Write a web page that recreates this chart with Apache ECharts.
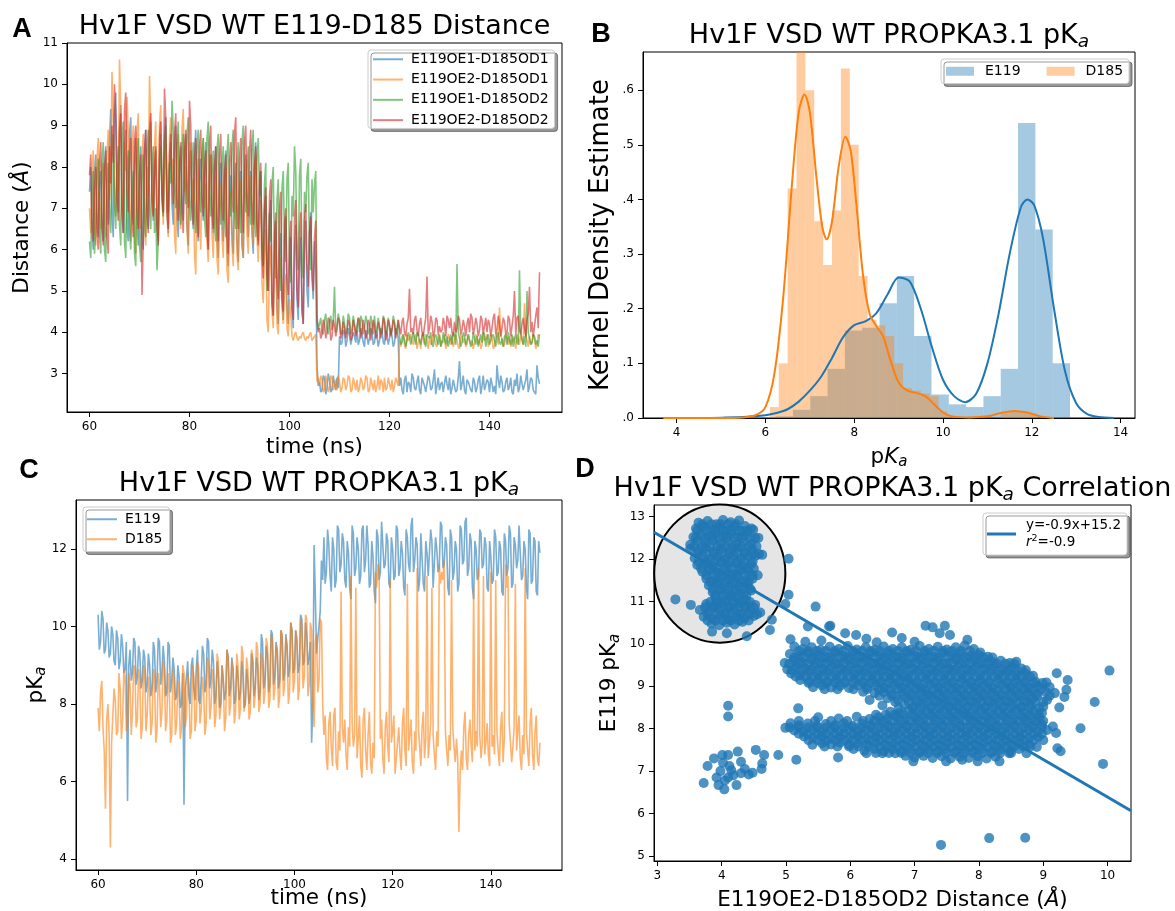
<!DOCTYPE html>
<html>
<head>
<meta charset="utf-8">
<script src="https://cdn.jsdelivr.net/npm/echarts@6/dist/echarts.min.js"></script>
<style>
  html, body { margin: 0; padding: 0; background: #fff; }
  #chart { width: 1175px; height: 911px; }
</style>
</head>
<body>
<div id="chart"></div>
<script>
// Traces are stored as two interleaved sample sets: frames at 60, 60.5, 61 ... 150 ns
// and frames at 60.25, 60.75 ... 149.75 ns.
const timeStart = 60;
const timeStep = 0.25;

// ---------- Panel A: E119-D185 carboxylate oxygen distances (Å) ----------
const distOE1OD1 = [
  7.4,6.5,7.9,6.9,7.6,6.6, 8.0,7.1,8.6,6.8,9.2,7.4, 8.9,7.0,8.3,6.5,8.8,7.2, 8.1,6.7,7.9,6.4,8.4,7.0,
  8.6,7.3,7.8,6.6,8.2,7.5, 8.7,6.9,8.0,7.1,8.5,6.8, 7.9,7.2,8.3,6.6,7.8,7.0, 8.4,6.8,7.6,7.3,8.1,6.5,
  7.7,6.9,8.0,6.3,7.5,6.8, 7.9,6.0,7.2,6.4,7.6,6.2, 7.4,6.1,7.8,6.9,7.3,6.4, 8.0,6.7,7.5,6.1,6.9,5.5,
  6.8,4.8,6.2,4.6,5.9,4.9, 6.3,4.6,5.6,4.5,6.0,4.8, 5.7,4.6,6.1,5.0,6.4,5.3, 6.2,3.2,
  2.8,2.6,2.9,2.65,2.85,2.6,2.75,2.9,
  3.9,3.75,4.0,3.8,3.95,3.7,3.9,4.05,3.8,3.95,3.65,3.9,3.85,4.0,3.75,3.9,3.8,4.05,3.7,3.95,3.85,3.9,3.75,4.0,
  2.7,2.6,2.85,2.55,2.75,3.0,2.65,2.8,2.6,2.9, 2.7,2.55,2.85,2.65,3.1,2.7,2.6,2.8,2.55,2.75,
  2.9,2.65,2.7,2.6,3.3,2.75,2.6,2.85,2.7,2.55, 2.8,2.65,2.95,2.7,2.6,2.85,2.55,2.75,2.7,3.2,
  2.65,2.8,2.6,2.9,2.7,2.55,2.85,3.0,2.65,2.75, 2.6,3.1,2.7,2.85,2.6,3.2,2.75
];
const distOE1OD1Mid = [
  8.0,6.0,8.3,6.3,7.9,6.2, 8.5,6.6,9.4,6.3,9.8,6.9, 9.5,6.4,8.9,6.2,9.2,6.6, 8.7,6.1,8.5,6.0,8.9,6.5,
  9.1,6.7,8.4,6.2,8.8,6.9, 9.2,6.4,8.6,6.6,9.0,6.3, 8.5,6.7,8.8,6.1,8.4,6.5, 8.9,6.2,8.2,6.7,8.6,6.0,
  8.3,6.4,8.5,5.8,8.1,6.2, 8.4,5.6,7.8,5.9,8.1,5.7, 7.9,5.8,8.3,6.3,7.9,5.9, 8.6,6.2,7.9,5.6,7.3,5.0,
  7.2,4.4,6.7,4.2,6.4,4.3, 6.8,4.2,6.3,4.1,6.6,4.3, 6.3,4.2,6.7,4.6,6.9,4.8, 5.5,
  2.7, 2.55,2.95,2.5,3.0,2.55,2.95,2.6, 2.65,
  3.7,4.05,3.65,4.1,3.7,4.0,3.75,3.7,4.1,3.75,4.05,3.7,4.1,3.7,4.05,3.65,4.1,3.75,4.05,3.7,4.1,3.65,4.1,
  3.85,
  2.9,2.5,2.95,2.8,2.55,2.9,2.6,2.95,2.5,2.8, 2.55,2.95,2.6,2.85,2.5,2.9,2.75,2.55,2.95,2.6,
  2.5,2.85,2.55,2.9,2.6,2.95,2.5,2.8,2.6,2.9, 2.55,2.85,2.5,2.95,2.6,2.8,2.9,2.55,2.5,2.85,
  2.95,2.55,2.8,2.6,2.9,2.5,2.7,2.55,2.95,2.6, 2.85,2.55,2.9,2.6,2.5,2.9
];
const distOE2OD1 = [
  7.0,7.8,6.6,8.2,7.1,7.6, 6.8,8.3,7.2,10.3,7.5,8.1, 10.6,7.3,8.6,9.7,6.9,8.4, 6.3,8.8,7.1,8.2,6.6,8.0,
  10.2,7.4,8.5,6.8,9.0,7.2, 8.1,6.9,8.7,7.6,6.4,8.3, 7.0,8.9,7.4,6.5,8.0,7.1, 5.9,7.7,6.6,8.2,7.0,6.2,
  7.8,6.4,7.3,5.8,7.0,6.3, 7.6,5.5,6.9,6.1,7.4,5.9, 7.1,6.2,7.7,6.4,7.2,6.6, 7.9,6.3,6.8,5.2,6.0,4.3,
  5.6,4.5,5.9,4.2,5.3,4.6, 5.0,4.1,4.8,3.9,3.95,3.85, 3.9,3.95,3.85,3.9,3.95,3.8, 3.9,2.8,
  2.7,2.85,2.6,2.8,2.65,2.9,2.7,2.6, 2.8,2.65,2.85,2.7,2.9,2.6,2.75,2.85,
  2.65,2.8,2.7,2.9,2.6,2.75,2.85,2.7, 2.6,2.8,2.9,2.65,2.75,2.85,2.7,2.8,
  3.8,3.9,3.7,3.95,3.85,3.75,3.9,3.6,3.85,3.95, 3.7,3.8,3.9,3.75,3.85,3.65,3.9,3.8,3.95,3.7,
  3.85,3.9,3.75,3.8,3.6,3.9,3.85,3.7,3.95,3.8, 3.75,3.9,3.85,3.7,3.8,3.95,3.75,3.85,3.65,3.9,
  4.6,3.8,3.7,3.85,3.9,3.75,3.8,3.95,3.7,3.85, 4.7,3.8,3.9,3.75,3.85,3.7,3.9
];
const distOE2OD1Mid = [
  6.4,8.4,6.1,8.7,6.5,8.1, 6.3,8.9,7.8,9.1,6.8,7.4, 9.4,6.7,7.9,8.8,6.2,9.0, 5.9,9.3,6.5,8.8,6.1,7.3,
  9.0,6.8,9.1,6.3,9.5,6.6, 8.6,6.3,9.2,8.2,5.9,8.8, 6.5,9.4,8.0,5.9,8.6,7.7, 5.4,8.2,6.0,8.7,7.6,5.7,
  8.3,5.8,7.8,5.4,7.6,5.8, 8.0,5.2,7.4,5.6,7.9,5.5, 7.7,5.8,8.2,5.9,7.8,6.1, 8.3,5.7,7.2,4.7,6.5,4.0,
  6.1,4.1,6.3,3.95,5.8,4.2, 5.4,3.9,4.4,3.8,4.0,3.8, 3.85,4.0,3.8,3.85,4.0,3.85, 3.95,
  2.9,
  2.95,2.55,2.95,2.55,2.95,2.6,2.85,2.95, 2.55,2.9,2.6,2.95,2.55,2.9,2.6,2.55,
  2.9,2.6,2.95,2.55,2.9,2.6,2.55,2.95, 2.85,2.55,2.6,2.9,2.6,2.55,2.9,
  2.7,
  3.65,3.95,3.6,3.8,3.95,3.7,3.95,3.75,3.6,3.85, 3.95,3.6,3.7,3.95,3.7,3.95,3.65,3.75,3.6,3.95,
  3.7,3.65,3.95,3.65,3.95,3.75,3.65,3.95,3.7,3.6, 3.95,3.7,3.6,3.95,3.85,3.65,3.95,3.6,3.95,3.7,
  3.95,3.65,3.95,3.7,3.65,3.9,3.6,3.85,3.95,3.7, 3.95,3.65,3.7,3.95,3.6,3.95
];
const distOE1OD2 = [
  6.2,7.3,5.9,7.8,6.4,8.1, 6.0,7.6,6.9,8.3,7.1,8.0, 6.6,8.7,6.2,7.9,6.5,7.4, 5.9,8.2,6.1,7.7,6.8,8.4,
  7.0,8.0,6.4,5.5,7.9,7.2, 8.6,7.4,8.1,9.6,7.5,8.6, 7.1,8.3,7.6,8.8,7.2,8.0, 6.9,8.5,7.4,8.2,6.8,8.7,
  7.3,7.9,6.7,8.4,7.1,8.0, 6.8,8.3,7.3,8.5,7.0,8.1, 6.9,8.6,7.4,8.0,7.1,8.5, 6.8,8.2,7.3,6.1,7.6,5.0,
  6.9,7.6,5.8,7.2,5.4,7.5, 6.2,7.7,5.6,7.3,8.5,6.0, 7.8,5.7,7.4,7.8,5.9,7.7, 7.6,4.4,
  4.2,4.0,4.3,4.1,4.25,4.05,5.1,4.15, 4.3,4.0,4.2,4.1,4.35,4.05,4.2,4.15,
  4.0,4.3,4.1,4.25,4.05,4.2,4.4,4.1, 4.15,4.0,4.3,4.1,4.2,4.05,4.25,4.1,
  3.9,3.75,3.95,3.8,3.9,3.7,3.85,4.0,3.8,3.9, 3.75,3.95,3.85,3.7,3.9,3.8,3.95,3.75,3.85,3.9,
  3.8,3.7,3.95,5.65,3.85,3.75,3.9,3.8,3.95,3.7, 3.85,3.9,3.8,3.75,3.95,3.85,3.7,3.9,3.8,3.95,
  3.75,3.85,3.9,3.7,3.8,3.95,3.85,3.75,5.5,3.8, 3.9,5.0,3.85,3.75,3.9,3.8,3.95
];
const distOE1OD2Mid = [
  5.8,7.9,6.5,8.2,5.9,8.6, 5.7,8.1,6.4,8.8,6.5,8.5, 6.1,9.1,5.8,8.4,6.0,7.9, 5.6,8.7,5.7,8.3,6.3,8.9,
  6.5,8.5,7.0,6.2,8.5,6.8, 9.0,6.9,7.6,8.9,7.0,9.1, 6.6,8.8,7.1,9.2,6.7,8.6, 6.4,8.9,6.9,8.7,6.3,9.1,
  6.8,8.4,6.2,8.8,6.6,8.5, 6.3,8.8,6.8,8.9,6.5,8.6, 6.4,9.0,6.9,8.5,6.6,8.9, 6.3,8.7,7.9,5.6,8.1,5.6,
  6.2,8.0,5.3,7.7,5.0,7.9, 5.7,8.1,5.2,6.8,7.9,5.5, 8.2,5.3,6.9,8.1,5.5,6.9, 7.9,
  4.05,
  4.35,3.95,4.45,3.95,4.4,4.3,4.0, 4.45,3.95,4.4,3.95,4.45,3.95,4.4,3.95,4.35,
  4.4,3.95,4.4,3.95,4.4,3.95,4.0,4.35, 3.95,4.4,3.95,4.35,3.95,4.4,3.95,
  4.3,
  3.7,3.95,3.65,4.0,3.7,4.0,3.7,3.95,3.7,4.0, 3.65,3.95,4.0,3.65,3.95,3.7,3.65,4.0,3.7,3.65,
  3.95,4.0,3.7,4.0,3.65,4.0,3.7,3.95,3.65,4.0, 3.7,3.65,3.95,4.0,3.65,3.95,3.7,3.95,3.65,4.0,
  3.7,3.65,3.95,4.0,3.7,3.65,3.95,3.7,4.0,3.7, 3.65,4.0,3.7,3.95,3.7,3.65
];
const distOE2OD2 = [
  7.8,6.7,7.5,6.4,8.1,6.6, 7.9,6.3,8.5,9.0,10.0,7.2, 8.8,6.9,9.4,7.5,8.2,6.8, 8.6,7.0,7.8,4.9,8.4,6.9,
  8.9,7.3,8.0,6.6,8.7,7.4, 9.9,7.0,8.3,7.6,8.8,7.2, 8.1,6.9,8.4,7.5,9.6,7.1, 8.2,6.8,8.5,7.3,7.9,6.5,
  8.6,7.0,8.0,6.7,8.3,7.2, 7.8,6.4,8.1,7.4,8.8,7.0, 8.2,6.9,8.6,7.3,8.4,7.1, 8.0,6.6,7.7,5.8,7.0,5.4,
  7.3,4.7,6.4,5.2,7.0,4.8, 6.6,5.3,6.2,4.6,6.8,5.0, 6.4,4.5,6.7,5.6,6.4,5.5, 6.3,4.3,
  4.1,3.95,4.2,4.0,4.3,3.9,4.15,4.05, 4.25,3.95,4.1,4.0,4.2,3.9,4.15,4.05,
  4.3,4.0,4.1,3.95,4.2,4.05,4.15,3.9, 4.1,4.0,4.25,3.95,4.15,4.05,4.2,4.0,
  4.1,4.25,4.0,4.2,5.05,4.1,4.3,4.05, 4.2,4.0,4.15,5.35,4.1,4.25,4.0,4.3,
  4.15,4.05,4.2,4.4,4.1,4.0,4.25,4.1, 4.3,4.05,4.15,4.2,4.0,4.35,4.1,4.2,
  4.05,4.3,4.15,4.0,4.2,4.1,4.45,4.05, 4.2,4.1,4.25,4.0,4.3,4.15,5.0,4.35,
  4.05,4.2,4.1,4.3,5.1,4.25,4.15,4.6,5.45
];
const distOE2OD2Mid = [
  8.3,6.2,8.0,6.0,8.6,6.1, 8.4,5.9,7.6,8.1,9.2,6.7, 9.3,6.4,9.8,6.9,8.7,6.3, 9.0,6.5,8.3,6.2,8.9,6.4,
  9.3,6.8,8.5,6.1,9.1,6.9, 9.2,6.5,8.8,7.1,9.3,6.7, 8.6,6.4,8.9,7.0,9.0,6.6, 8.7,6.3,8.9,6.8,8.4,6.0,
  9.0,6.5,8.5,6.2,8.8,6.7, 8.3,5.9,8.6,6.9,9.2,6.5, 8.7,6.4,9.0,6.8,8.9,6.6, 8.5,6.1,8.1,5.3,7.5,5.0,
  7.7,4.4,6.9,4.8,7.4,4.5, 7.0,4.9,6.7,4.3,7.2,4.6, 6.9,4.2,7.1,5.1,6.8,5.0, 6.7,
  4.0,
  3.85,4.3,3.85,4.35,3.8,4.3,3.9,4.35, 3.85,4.25,3.85,4.3,3.8,4.3,3.9,4.35,
  3.85,4.3,3.85,4.3,3.8,4.3,3.85,4.25, 3.85,4.35,3.8,4.3,3.9,4.3,3.85,
  4.3,
  3.95,4.35,3.9,4.35,4.0,3.95,4.4,3.9, 4.35,3.9,4.35,3.95,4.4,3.9,4.35,3.95,
  4.0,4.35,3.9,4.3,4.35,3.9,4.0,4.4, 3.95,4.3,3.9,4.35,4.45,3.95,4.35,3.9,
  4.4,3.95,4.35,4.3,3.9,4.35,3.95,4.4, 3.9,4.35,3.95,4.4,3.9,4.4,3.95,4.4,
  3.95,4.35,3.9,4.45,4.0,3.9,4.4,4.1
];
const distanceNames = ['E119OE1-D185OD1', 'E119OE2-D185OD1', 'E119OE1-D185OD2', 'E119OE2-D185OD2'];

// ---------- Panel B: pKa histograms (density) and KDE curves ----------
const e119HistStart = 5.06;
const e119HistWidth = 0.39;
const e119HistHeights = [0.003, 0, 0, 0.003, 0.015, 0.04, 0.09, 0.16, 0.165, 0.21,
                         0.26, 0.15, 0.043, 0.025, 0.02, 0.04, 0.09, 0.54, 0.345, 0.10];
const d185HistStart = 6.1;
const d185HistWidth = 0.2;
const d185HistHeights = [0.02, 0.1, 0.42, 0.72, 0.6, 0.36, 0.28, 0.38, 0.64, 0.5,
                         0.26, 0.18, 0.17, 0.15, 0.1, 0.055, 0.05, 0.045, 0.04, 0.012,
                         0.004, 0, 0, 0, 0, 0, 0.008, 0.012, 0.012, 0.008];
const e119Kde = [[4.6,0],[5.5,0.002],[6.0,0.005],[6.25,0.009],[6.5,0.016],[6.75,0.03],[7.0,0.05],
  [7.25,0.075],[7.5,0.11],[7.75,0.148],[8.0,0.17],[8.25,0.177],[8.5,0.192],[8.75,0.226],[9.0,0.257],
  [9.25,0.25],[9.5,0.2],[9.75,0.13],[10.0,0.07],[10.25,0.04],[10.5,0.029],[10.75,0.045],[11.0,0.1],
  [11.25,0.19],[11.5,0.3],[11.75,0.385],[11.9,0.4],[12.05,0.39],[12.25,0.33],[12.5,0.2],[12.75,0.085],
  [13.0,0.027],[13.25,0.007],[13.5,0.002],[13.85,0]];
const d185Kde = [[3.7,0],[5.0,0],[5.5,0.001],[5.8,0.006],[6.0,0.02],[6.2,0.08],[6.4,0.22],[6.6,0.43],
  [6.75,0.56],[6.88,0.592],[7.0,0.56],[7.15,0.44],[7.28,0.35],[7.38,0.327],[7.5,0.36],[7.65,0.46],
  [7.8,0.515],[7.92,0.49],[8.05,0.39],[8.2,0.26],[8.35,0.19],[8.5,0.168],[8.65,0.15],[8.8,0.11],
  [9.0,0.065],[9.2,0.05],[9.4,0.046],[9.6,0.04],[9.8,0.025],[10.0,0.01],[10.2,0.003],[10.6,0.001],
  [11.0,0.003],[11.3,0.009],[11.6,0.013],[11.9,0.01],[12.2,0.003],[12.5,0]];

// ---------- Panel C: PROPKA pKa traces ----------
const pkaE119 = [
  10.3,9.6,10.2,9.4,9.9,9.3, 9.8,9.0,9.7,9.1,9.5,8.9, 5.5,9.4,8.8,9.6,8.7,9.3, 8.6,9.2,8.5,9.0,8.4,9.4,
  8.6,9.6,8.8,9.1,8.3,9.5, 8.6,8.9,8.2,8.7,8.0,5.4, 8.7,8.2,9.0,8.4,8.9,8.1, 8.6,9.3,8.5,9.6,8.7,9.1,
  8.2,8.8,8.0,8.6,8.3,9.2, 8.4,8.9,8.1,8.7,8.3,8.8, 8.0,8.6,8.2,9.1,8.4,9.0, 8.3,9.6,8.6,9.3,8.5,9.8,
  8.7,9.4,8.6,9.7,8.8,9.5, 8.9,9.9,8.9,9.6,9.0,10.2, 9.1,9.8,9.2,7.0,12.1,9.3, 10.0,11.7,
  12.3,11.4,12.1,10.9,12.0,11.2,12.5,11.6, 12.2,11.0,11.9,10.7,12.4,11.5,12.0,11.3,
  12.6,11.7,12.1,11.1,11.8,10.6,12.3,11.4, 12.7,11.6,12.2,11.0,12.0,11.3,12.5,11.5,
  11.9,10.8,12.3,11.4,12.8,11.7,12.1,11.2, 12.4,10.9,11.9,11.3,12.2,11.0,12.0,11.5,
  12.6,11.6,12.1,10.8,12.3,11.4,12.0,11.1, 12.5,11.7,12.8,11.5,12.2,10.7,12.0,11.3,
  12.4,11.6,12.1,10.9,11.8,11.2,12.3,11.4, 12.0,10.8,12.2,11.5,12.4,11.1,12.1,11.7,
  12.6,11.3,12.0,10.7,12.4,11.2,12.2,10.8, 11.9
];
const pkaE119Mid = [
  9.4,10.4,9.3,10.1,9.2,10.0, 9.1,9.9,8.9,9.8,8.8,9.6, 9.0,8.6,9.7,8.5,9.5,8.4, 9.4,8.3,9.3,8.2,9.6,8.3,
  9.7,8.5,9.5,8.2,9.6,8.3, 9.2,8.1,9.0,7.9,8.8,8.4, 9.1,8.0,9.2,8.1,9.4,8.0, 9.5,8.3,9.7,8.4,9.4,8.0,
  9.1,7.9,9.0,8.1,9.4,8.2, 9.2,8.0,9.0,8.1,9.1,7.9, 8.9,8.0,9.3,8.2,9.2,8.1, 9.8,8.4,9.5,8.3,9.9,8.5,
  9.6,8.4,9.9,8.6,9.8,8.7, 10.1,8.8,9.9,8.8,10.3,9.0, 10.1,9.0,9.6,8.0,10.8,9.7, 10.4,
  11.2,
  11.1,12.5,11.3,12.3,11.0,12.6,11.4,12.4, 11.2,12.2,11.0,12.6,11.3,12.3,11.1,12.5,
  11.4,12.6,11.0,12.2,10.9,12.5,11.2,12.7, 11.5,12.4,11.1,12.3,11.2,12.6,11.3,12.2,
  11.0,12.5,11.6,12.6,11.4,12.3,10.9,12.4, 11.1,12.2,11.3,12.5,11.0,12.3,11.4,12.7,
  11.5,12.3,11.0,12.5,11.2,12.2,10.9,12.6, 11.6,12.7,11.3,12.4,11.0,12.2,11.2,12.5,
  11.5,12.3,11.0,12.2,11.1,12.5,11.3,12.2, 10.9,12.4,11.3,12.6,11.0,12.3,11.5,12.6,
  11.2,12.2,11.0,12.5,11.1,12.3,10.9,12.2
];
const pkaD185 = [
  7.9,8.3,7.4,5.3,8.0,4.3, 7.7,8.1,7.3,8.4,7.6,8.7, 7.5,8.5,7.8,8.9,7.6,8.6, 7.4,8.8,7.7,8.3,7.5,8.7,
  7.3,8.5,7.8,8.9,7.6,8.4, 7.2,8.6,7.5,8.2,7.4,8.8, 7.7,8.5,7.3,8.7,7.6,8.9, 7.8,8.4,7.5,9.0,7.9,8.6,
  7.7,9.1,7.9,8.7,7.6,9.2, 8.0,8.8,7.8,9.0,7.9,9.3, 8.1,8.9,7.8,9.2,8.2,9.4, 8.0,9.1,8.3,9.5,8.1,9.6,
  8.4,9.3,8.2,9.8,8.5,9.5, 8.3,9.9,8.6,9.7,8.4,10.0, 8.7,10.2,8.5,9.9,7.4,9.8, 8.6,10.1,
  7.2,6.6,7.5,6.9,7.7,6.5,7.3,10.9, 7.0,6.7,7.4,11.3,6.9,11.0,7.1,6.4,
  7.6,6.8,7.2,6.5,7.0,11.4,11.6,7.1, 6.6,7.4,6.9,11.2,7.3,6.2,7.0,6.7,
  7.5,6.8,11.1,7.2,6.5,7.3,11.5,6.9, 7.4,6.6,11.3,7.0,11.0,6.7,7.3,11.6,
  11.4,11.7,6.8,7.2,11.2,6.9,7.1,4.7, 6.8,7.4,6.6,7.2,6.9,11.0,7.3,11.5,
  6.6,11.3,7.0,6.7,11.4,7.2,11.2,6.8, 7.4,6.5,11.6,11.3,7.0,6.9,11.1,7.3,
  6.6,7.2,11.5,6.8,7.5,6.7,7.3,6.6, 7.0
];
const pkaD185Mid = [
  7.3,8.6,6.8,7.6,7.2,7.0, 8.4,7.2,8.8,7.1,8.9,7.3, 8.8,7.2,9.0,7.4,8.9,7.1, 9.0,7.3,8.7,7.2,8.9,7.0,
  8.8,7.4,9.1,7.3,8.8,7.0, 8.9,7.2,8.6,7.1,9.0,7.4, 8.8,7.1,9.0,7.3,9.1,7.5, 8.7,7.2,9.2,7.6,8.9,7.4,
  9.3,7.6,9.0,7.3,9.4,7.7, 9.1,7.5,9.3,7.6,9.5,7.8, 9.2,7.6,9.4,7.9,9.6,7.8, 9.3,8.0,9.7,7.9,9.8,8.1,
  9.5,7.9,9.9,8.2,9.7,8.0, 10.1,8.3,9.9,8.1,10.2,8.4, 10.3,8.2,10.1,8.0,9.6,8.3, 10.2,
  8.0,
  7.7,6.3,7.8,6.4,7.9,6.3,6.8,7.4, 7.6,6.3,6.9,7.5,7.2,6.6,7.7,6.1,
  7.9,6.3,7.8,6.2,6.6,11.0,11.3,7.6, 6.2,7.8,6.5,7.0,7.7,6.6,7.4,6.3,
  7.9,6.4,6.8,7.6,6.2,6.8,7.4,6.4, 7.8,7.1,6.6,7.5,7.2,6.3,6.9,11.1,
  11.2,7.3,6.4,6.8,7.4,6.5,6.6,6.2, 6.3,7.8,6.3,7.6,6.5,6.8,6.9,7.2,
  7.0,6.7,7.5,6.4,6.9,6.7,7.3,6.4, 7.8,7.1,11.0,7.5,6.5,7.4,6.8,7.7,
  6.3,6.7,7.3,6.4,7.9,6.3,7.7,6.4
];

// ---------- Panel D: E119 pKa against E119OE2-D185OD2 distance ----------
const corrHighState = [
  [3.64,12.86],[3.78,12.9],[3.92,12.82],[4.02,12.92],[4.14,12.87],[4.27,12.91],[4.36,12.78],
  [3.6,12.72],[3.72,12.76],[3.85,12.7],[3.97,12.74],[4.08,12.68],[4.2,12.76],[4.32,12.66],[4.46,12.72],[4.49,12.69],
  [3.56,12.52],[3.68,12.58],[3.8,12.55],[3.9,12.6],[4.02,12.54],[4.14,12.6],[4.25,12.52],[4.38,12.58],[4.57,12.5],
  [3.51,12.34],[3.62,12.42],[3.74,12.38],[3.86,12.44],[3.98,12.36],[4.1,12.42],[4.22,12.34],[4.34,12.4],[4.46,12.36],
  [3.51,12.24],[3.64,12.2],[3.76,12.26],[3.88,12.18],[4.0,12.24],[4.12,12.2],[4.24,12.26],[4.36,12.18],[4.48,12.22],[4.63,12.1],
  [3.58,12.02],[3.7,12.08],[3.82,12.0],[3.94,12.06],[4.06,12.0],[4.18,12.08],[4.3,12.02],[4.42,12.06],[4.53,12.08],
  [3.62,11.86],[3.74,11.9],[3.86,11.84],[3.98,11.92],[4.1,11.86],[4.22,11.9],[4.34,11.84],[4.46,11.88],
  [3.7,11.7],[3.82,11.74],[3.94,11.68],[4.06,11.72],[4.18,11.66],[4.3,11.74],[4.42,11.7],[4.56,11.62],
  [3.76,11.54],[3.88,11.5],[4.0,11.56],[4.12,11.52],[4.24,11.58],[4.36,11.5],[4.48,11.54],
  [3.8,11.38],[3.92,11.42],[4.04,11.36],[4.16,11.4],[4.28,11.34],[4.4,11.4],
  [3.86,11.22],[3.98,11.26],[4.1,11.2],[4.22,11.24],[4.34,11.18],[4.46,11.26],
  [3.9,11.08],[4.02,11.04],[4.14,11.1],[4.26,11.06],[4.38,11.02],
  [3.76,10.94],[3.88,10.9],[4.0,10.96],[4.12,10.88],[4.24,10.94],[4.36,10.9],[4.52,10.92],
  [3.66,10.8],[3.8,10.76],[3.94,10.82],[4.06,10.74],[4.18,10.8],[4.3,10.72],[4.44,10.78],[4.6,10.74],
  [3.72,10.64],[3.86,10.6],[3.98,10.66],[4.1,10.58],[4.22,10.64],[4.36,10.6],[4.5,10.66],
  [3.84,10.48],[3.96,10.44],[4.08,10.5],[4.2,10.46],[4.32,10.52],
  [3.28,11.05],[3.52,10.92],[3.85,10.29],[4.08,10.25],[4.39,10.18],
  [5.04,12.01],[5.04,11.16],[4.99,10.94],[5.46,10.88],[4.78,10.57],[4.75,10.33],[5.34,10.41],[5.67,10.41]
];
// interior rows of the high-pKa population: [pKa, [distances]]
const corrHighStateRows = [
  [12.82, [3.7,3.84,3.98,4.1,4.22]],
  [12.67, [3.62,3.76,3.9,4.03,4.15,4.27,4.4]],
  [12.5,  [3.6,3.74,3.86,3.97,4.08,4.2,4.31,4.44,4.52]],
  [12.3,  [3.57,3.7,3.82,3.94,4.06,4.18,4.3,4.42,4.54]],
  [12.12, [3.63,3.76,3.88,4.0,4.12,4.24,4.36,4.48,4.58]],
  [11.94, [3.64,3.76,3.88,4.0,4.12,4.24,4.36,4.48]],
  [11.78, [3.68,3.8,3.92,4.04,4.16,4.28,4.4,4.5]],
  [11.62, [3.76,3.88,4.0,4.12,4.24,4.36,4.48]],
  [11.46, [3.82,3.94,4.06,4.18,4.3,4.42]],
  [11.3,  [3.86,3.98,4.1,4.22,4.34,4.44]],
  [11.14, [3.9,4.02,4.14,4.26,4.38]],
  [10.99, [3.82,3.94,4.06,4.18,4.3,4.44]],
  [10.86, [3.74,3.87,4.0,4.12,4.25,4.38,4.5]],
  [10.7,  [3.78,3.92,4.04,4.16,4.28,4.42,4.55]],
  [10.55, [3.78,3.9,4.02,4.14,4.27,4.42]]
];
const corrLowState = [
  [3.72,6.72],[3.78,7.12],[3.95,6.67],[4.04,6.57],[3.98,7.0],[4.01,7.38],[4.1,7.38],[4.23,6.67],
  [4.1,6.85],[4.15,7.02],[4.25,7.46],[4.3,7.22],[4.3,6.95],[4.36,7.05],[3.92,6.85],[4.05,6.78],
  [4.18,6.9],[4.02,7.2],[3.88,7.3],[4.12,7.12],[4.48,6.96],[4.42,6.92],[4.53,7.5],[4.66,7.38],
  [4.63,7.18],[4.62,7.05],[4.1,8.54],[4.1,8.29],[4.88,7.38],[5.16,7.27],[5.81,7.32]
];
const corrOpenState = [
  [5.07,10.11],[5.3,10.05],[5.69,10.43],[5.92,10.25],[6.09,10.21],[6.41,10.04],[6.65,10.27],[6.8,10.14],
  [7.17,10.43],[7.28,10.39],[7.47,10.43],[7.39,10.25],[7.55,10.21],[7.0,10.05],[6.25,10.12],[5.55,10.08],[7.82,10.1],
  [5.13,9.94],[5.26,9.88],[5.4,9.92],[5.54,9.86],[5.68,9.93],[5.82,9.88],[5.96,9.95],[6.1,9.87],[6.24,9.92],
  [6.38,9.86],[6.52,9.94],[6.66,9.88],[6.8,9.92],[6.94,9.86],[7.08,9.95],[7.22,9.88],[7.36,9.93],[7.5,9.87],
  [7.64,9.92],[7.78,9.96],[7.92,9.88],[8.02,9.8],
  [5.06,9.76],[5.2,9.72],[5.34,9.78],[5.48,9.74],[5.62,9.7],[5.76,9.77],[5.9,9.72],[6.04,9.76],[6.18,9.7],
  [6.32,9.78],[6.46,9.73],[6.6,9.76],[6.74,9.7],[6.88,9.77],[7.02,9.72],[7.16,9.76],[7.3,9.7],[7.44,9.78],
  [7.58,9.73],[7.72,9.77],[7.86,9.71],[8.0,9.74],[8.14,9.7],
  [4.98,9.55],[5.12,9.6],[5.26,9.57],[5.4,9.62],[5.54,9.56],[5.68,9.6],[5.82,9.55],[5.96,9.62],[6.1,9.57],
  [6.24,9.6],[6.38,9.55],[6.52,9.62],[6.66,9.58],[6.8,9.6],[6.94,9.55],[7.08,9.62],[7.22,9.57],[7.36,9.6],
  [7.5,9.55],[7.64,9.62],[7.78,9.58],[7.92,9.6],[8.06,9.55],[8.2,9.58],[8.34,9.6],[8.48,9.55],[8.58,9.58],
  [5.02,9.4],[5.16,9.45],[5.3,9.42],[5.44,9.47],[5.58,9.41],[5.72,9.46],[5.86,9.42],[6.0,9.47],[6.14,9.4],
  [6.28,9.45],[6.42,9.42],[6.56,9.47],[6.7,9.41],[6.84,9.46],[6.98,9.42],[7.12,9.47],[7.26,9.4],[7.4,9.45],
  [7.54,9.42],[7.68,9.47],[7.82,9.41],[7.96,9.46],[8.1,9.42],[8.24,9.47],[8.38,9.4],[8.52,9.45],[8.66,9.42],
  [5.08,9.3],[5.22,9.26],[5.36,9.32],[5.5,9.27],[5.64,9.31],[5.78,9.26],[5.92,9.32],[6.06,9.28],[6.2,9.31],
  [6.34,9.26],[6.48,9.32],[6.62,9.27],[6.76,9.31],[6.9,9.26],[7.04,9.32],[7.18,9.28],[7.32,9.31],[7.46,9.26],
  [7.6,9.32],[7.74,9.27],[7.88,9.31],[8.02,9.26],[8.16,9.32],[8.3,9.28],[8.44,9.31],[8.58,9.26],[8.72,9.3],[8.84,9.25],
  [5.22,9.15],[5.36,9.12],[5.5,9.17],[5.64,9.11],[5.78,9.16],[5.92,9.12],[6.06,9.17],[6.2,9.11],[6.34,9.16],
  [6.48,9.12],[6.62,9.17],[6.76,9.11],[6.9,9.16],[7.04,9.12],[7.18,9.17],[7.32,9.11],[7.46,9.16],[7.6,9.12],
  [7.74,9.17],[7.88,9.11],[8.02,9.16],[8.16,9.12],[8.3,9.17],[8.44,9.11],[8.58,9.16],[8.72,9.12],[8.88,9.11],[9.05,9.09],
  [5.42,8.98],[5.56,9.02],[5.7,8.97],[5.84,9.01],[5.98,8.96],[6.12,9.02],[6.26,8.97],[6.4,9.01],[6.54,8.96],
  [6.68,9.02],[6.82,8.97],[6.96,9.01],[7.1,8.96],[7.24,9.02],[7.38,8.97],[7.52,9.01],[7.66,8.96],[7.8,9.02],
  [7.94,8.97],[8.08,9.01],[8.22,8.96],[8.36,9.02],[8.5,8.97],[8.64,9.01],[8.78,8.96],[8.92,9.0],[9.1,8.98],
  [6.2,8.87],[6.38,8.84],[6.52,8.86],[6.66,8.82],[6.8,8.87],[6.94,8.83],[7.08,8.86],[7.22,8.82],[7.36,8.87],
  [7.5,8.83],[7.64,8.86],[7.78,8.82],[7.92,8.87],[8.06,8.83],[8.2,8.86],[8.34,8.82],[8.48,8.87],[8.62,8.83],
  [8.76,8.86],[8.9,8.82],[9.04,8.87],[9.18,8.84],[9.36,8.92],[9.38,9.15],[9.21,9.31],
  [6.3,8.68],[6.58,8.72],[6.74,8.68],[6.88,8.72],[7.02,8.67],[7.16,8.71],[7.3,8.68],[7.44,8.72],[7.58,8.67],
  [7.72,8.71],[7.86,8.68],[8.0,8.72],[8.14,8.67],[8.28,8.71],[8.42,8.68],[8.56,8.72],[8.7,8.67],[8.84,8.71],
  [9.06,8.68],[9.33,8.75],
  [6.5,8.55],[6.84,8.56],[6.98,8.52],[7.12,8.57],[7.26,8.53],[7.4,8.56],[7.54,8.52],[7.68,8.57],[7.82,8.53],
  [7.96,8.56],[8.1,8.52],[8.24,8.57],[8.38,8.53],[8.52,8.56],[8.66,8.52],[8.8,8.57],[9.0,8.52],[9.25,8.5],
  [5.19,8.48],[6.62,8.4],[6.76,8.37],[6.9,8.42],[7.04,8.38],[7.18,8.41],[7.32,8.37],[7.46,8.42],[7.6,8.38],
  [7.74,8.41],[7.88,8.37],[8.02,8.42],[8.16,8.38],[8.3,8.41],[8.44,8.37],[8.58,8.42],[8.72,8.38],[8.86,8.41],[8.98,8.37],
  [5.5,8.27],[5.82,8.24],[6.1,8.28],[6.3,8.23],[6.44,8.27],[6.58,8.24],[6.72,8.28],[6.86,8.23],[7.0,8.27],
  [7.14,8.24],[7.28,8.28],[7.42,8.23],[7.56,8.27],[7.7,8.24],[7.84,8.28],[7.98,8.23],[8.12,8.27],[8.26,8.24],
  [8.4,8.28],[8.54,8.23],[8.68,8.27],[8.82,8.24],[8.94,8.25],
  [5.07,8.13],[5.2,8.08],[5.34,8.12],[5.48,8.07],[5.62,8.11],[5.76,8.08],[5.9,8.13],[6.04,8.07],[6.18,8.11],
  [6.32,8.08],[6.46,8.13],[6.6,8.07],[6.74,8.11],[6.88,8.08],[7.02,8.13],[7.16,8.07],[7.3,8.11],[7.44,8.08],
  [7.58,8.13],[7.72,8.07],[7.86,8.11],[8.0,8.08],[8.14,8.13],[8.28,8.07],[8.42,8.11],[8.56,8.08],[8.7,8.13],
  [8.84,8.07],[8.98,8.1],[9.15,8.05],
  [4.99,8.02],[5.13,7.96],[5.27,7.93],[5.41,7.97],[5.55,7.92],[5.69,7.96],[5.83,7.93],[5.97,7.97],[6.11,7.92],
  [6.25,7.96],[6.39,7.93],[6.53,7.97],[6.67,7.92],[6.81,7.96],[6.95,7.93],[7.09,7.97],[7.23,7.92],[7.37,7.96],
  [7.51,7.93],[7.65,7.97],[7.79,7.92],[7.93,7.96],[8.07,7.93],[8.21,7.97],[8.35,7.92],[8.49,7.96],[8.63,7.93],
  [8.77,7.97],[8.91,7.92],[9.06,7.97],[9.2,7.9],
  [5.28,7.82],[5.42,7.78],[5.56,7.82],[5.7,7.77],[5.84,7.81],[5.98,7.78],[6.12,7.83],[6.26,7.77],[6.4,7.81],
  [6.54,7.78],[6.68,7.83],[6.82,7.77],[6.96,7.81],[7.1,7.78],[7.24,7.83],[7.38,7.77],[7.52,7.81],[7.66,7.78],
  [7.8,7.83],[7.94,7.77],[8.08,7.81],[8.22,7.78],[8.36,7.83],[8.5,7.77],[8.64,7.81],[8.78,7.78],[8.92,7.8],[9.0,7.73],
  [5.41,7.62],[5.56,7.66],[5.7,7.63],[5.84,7.67],[5.98,7.62],[6.12,7.66],[6.26,7.63],[6.4,7.67],[6.54,7.62],
  [6.68,7.66],[6.82,7.63],[6.96,7.67],[7.1,7.62],[7.24,7.66],[7.38,7.63],[7.52,7.67],[7.66,7.62],[7.8,7.66],
  [7.94,7.63],[8.08,7.67],[8.22,7.62],[8.36,7.66],[8.5,7.63],[8.64,7.67],[8.78,7.62],[8.9,7.57],[9.22,7.54],
  [6.05,7.52],[6.22,7.48],[6.38,7.52],[6.52,7.47],[6.66,7.51],[6.8,7.48],[6.94,7.52],[7.08,7.47],[7.22,7.51],
  [7.36,7.48],[7.5,7.52],[7.64,7.47],[7.78,7.51],[7.92,7.48],[8.06,7.52],[8.2,7.47],[8.34,7.51],[8.48,7.48],
  [8.62,7.52],[8.74,7.42],[9.27,7.47],
  [6.25,7.42],[6.5,7.42],[6.7,7.42],[6.86,7.36],[7.0,7.32],[7.14,7.36],[7.28,7.31],[7.42,7.35],[7.56,7.3],
  [7.7,7.34],[7.84,7.31],[7.98,7.35],[8.12,7.3],[8.26,7.34],[8.47,7.42],
  [6.98,7.23],[7.49,7.23],[7.74,7.27],[7.98,7.23],[8.32,7.23]
];
// interior rows of the open-state population: [pKa, [distances]]
const corrOpenStateRows = [
  [9.83, [5.2,5.34,5.48,5.62,5.76,5.9,6.04,6.18,6.32,6.46,6.6,6.74,6.88,7.02,7.16,7.3,7.44,7.58,7.72,7.86]],
  [9.68, [5.13,5.27,5.41,5.55,5.69,5.83,5.97,6.11,6.25,6.39,6.53,6.67,6.81,6.95,7.09,7.23,7.37,7.51,7.65,7.79,7.93,8.07,8.21]],
  [9.53, [5.05,5.19,5.33,5.47,5.61,5.75,5.89,6.03,6.17,6.31,6.45,6.59,6.73,6.87,7.01,7.15,7.29,7.43,7.57,7.71,7.85,7.99,8.13,8.27,8.41,8.55]],
  [9.38, [5.09,5.23,5.37,5.51,5.65,5.79,5.93,6.07,6.21,6.35,6.49,6.63,6.77,6.91,7.05,7.19,7.33,7.47,7.61,7.75,7.89,8.03,8.17,8.31,8.45,8.59,8.73]],
  [9.23, [5.15,5.29,5.43,5.57,5.71,5.85,5.99,6.13,6.27,6.41,6.55,6.69,6.83,6.97,7.11,7.25,7.39,7.53,7.67,7.81,7.95,8.09,8.23,8.37,8.51,8.65,8.79]],
  [9.08, [5.35,5.49,5.63,5.77,5.91,6.05,6.19,6.33,6.47,6.61,6.75,6.89,7.03,7.17,7.31,7.45,7.59,7.73,7.87,8.01,8.15,8.29,8.43,8.57,8.71,8.85,8.99]],
  [8.93, [5.6,5.8,6.05,6.26,6.45,6.59,6.73,6.87,7.01,7.15,7.29,7.43,7.57,7.71,7.85,7.99,8.13,8.27,8.41,8.55,8.69,8.83,8.97]],
  [8.78, [6.45,6.65,6.81,6.95,7.09,7.23,7.37,7.51,7.65,7.79,7.93,8.07,8.21,8.35,8.49,8.63,8.77,8.91,9.1]],
  [8.63, [6.7,6.91,7.05,7.19,7.33,7.47,7.61,7.75,7.89,8.03,8.17,8.31,8.45,8.59,8.73,8.87,9.0]],
  [8.48, [6.75,6.97,7.11,7.25,7.39,7.53,7.67,7.81,7.95,8.09,8.23,8.37,8.51,8.65,8.79,8.93]],
  [8.33, [6.4,6.55,6.69,6.83,6.97,7.11,7.25,7.39,7.53,7.67,7.81,7.95,8.09,8.23,8.37,8.51,8.65,8.79,8.93]],
  [8.18, [5.2,5.45,5.7,5.95,6.2,6.37,6.51,6.65,6.79,6.93,7.07,7.21,7.35,7.49,7.63,7.77,7.91,8.05,8.19,8.33,8.47,8.61,8.75,8.89,9.0]],
  [8.03, [5.06,5.2,5.34,5.48,5.62,5.76,5.9,6.04,6.18,6.32,6.46,6.6,6.74,6.88,7.02,7.16,7.3,7.44,7.58,7.72,7.86,8.0,8.14,8.28,8.42,8.56,8.7,8.84,8.98]],
  [7.88, [5.2,5.34,5.48,5.62,5.76,5.9,6.04,6.18,6.32,6.46,6.6,6.74,6.88,7.02,7.16,7.3,7.44,7.58,7.72,7.86,8.0,8.14,8.28,8.42,8.56,8.7,8.84,8.98]],
  [7.73, [5.35,5.49,5.63,5.77,5.91,6.05,6.19,6.33,6.47,6.61,6.75,6.89,7.03,7.17,7.31,7.45,7.59,7.73,7.87,8.01,8.15,8.29,8.43,8.57,8.71,8.85]],
  [7.58, [5.6,5.8,5.98,6.13,6.29,6.45,6.59,6.73,6.87,7.01,7.15,7.29,7.43,7.57,7.71,7.85,7.99,8.13,8.27,8.41,8.55,8.69,8.8]],
  [7.43, [6.4,6.6,6.79,6.93,7.07,7.21,7.35,7.49,7.63,7.77,7.91,8.05,8.19,8.33,8.5]]
];
const corrOutliers = [[7.41,5.26],[8.16,5.42],[8.72,5.43],[9.93,7.17],[10.03,9.37],[9.8,8.63],[9.58,8.01]];

// linear fit printed in the legend
const fitSlope = -0.885;
const fitIntercept = 15.24;
const fitR2 = -0.9;
// circled high-pKa population (centre and radii in data units)
const highStateRing = { center: [3.97, 11.66], radii: [1.02, 1.63] };

// ---------- styling ----------
const FONT = 'DejaVu Sans';
const BLUE = '#1f77b4', ORANGE = '#ff7f0e', GREEN = '#2ca02c', RED = '#d62728';

const gridBoxes = [
  { left: 67,  top: 43,  width: 495, height: 369 },   // A
  { left: 643, top: 52,  width: 492, height: 366 },   // B
  { left: 76,  top: 500, width: 486, height: 370 },   // C
  { left: 654, top: 505, width: 477, height: 356 }    // D
];
const axisRanges = {
  A: { x: [55.5, 154.5], y: [2.07, 11.0] },
  B: { x: [3.243, 14.324], y: [0, 0.67] },
  C: { x: [55.5, 154.5], y: [3.72, 13.26] },
  D: { x: [2.947, 10.365], y: [4.88, 13.276] }
};
const tickValues = {
  A: { x: [60, 80, 100, 120, 140], y: [3, 4, 5, 6, 7, 8, 9, 10, 11] },
  B: { x: [4, 6, 8, 10, 12, 14], y: [0, 0.1, 0.2, 0.3, 0.4, 0.5, 0.6] },
  C: { x: [60, 80, 100, 120, 140], y: [4, 6, 8, 10, 12] },
  D: { x: [3, 4, 5, 6, 7, 8, 9, 10], y: [5, 6, 7, 8, 9, 10, 11, 12, 13] }
};

function makeAxis(gridIndex, range, ticks, formatter) {
  return {
    type: 'value', gridIndex, min: range[0], max: range[1], scale: true,
    splitLine: { show: false },
    axisLine: { show: true, onZero: false, lineStyle: { color: '#000', width: 1 } },
    axisTick: { show: true, length: 5, lineStyle: { color: '#000', width: 1 }, customValues: ticks },
    axisLabel: { show: true, color: '#000', fontFamily: FONT, fontSize: 12, margin: 9,
                 customValues: ticks, formatter: formatter || (v => String(v)) }
  };
}

const panels = ['A', 'B', 'C', 'D'];
const xAxes = panels.map((p, i) => makeAxis(i, axisRanges[p].x, tickValues[p].x));
const yAxes = panels.map((p, i) => makeAxis(i, axisRanges[p].y, tickValues[p].y,
  p === 'B' ? (v => '.' + Math.round(v * 10)) : null));

// merge the on-frame and mid-frame samples into one time-ordered trace
function timeSeries(onFrames, midFrames) {
  const out = [];
  onFrames.forEach((v, i) => {
    out.push([timeStart + 2 * i * timeStep, v]);
    if (i < midFrames.length) out.push([timeStart + (2 * i + 1) * timeStep, midFrames[i]]);
  });
  return out;
}
function rowsToPoints(rows) {
  const pts = [];
  rows.forEach(([y, xs]) => xs.forEach(x => pts.push([x, y])));
  return pts;
}

function traceSeries(name, color, onFrames, midFrames, panelIndex) {
  return {
    type: 'line', name, xAxisIndex: panelIndex, yAxisIndex: panelIndex,
    data: timeSeries(onFrames, midFrames), showSymbol: false, symbol: 'none', silent: true,
    color, lineStyle: { color, width: 1.6, opacity: 0.6 }, emphasis: { disabled: true },
    clip: true, sampling: null
  };
}

function histSeries(name, color, start, width, heights) {
  const bins = [];
  heights.forEach((h, i) => { if (h > 0) bins.push([start + i * width, start + (i + 1) * width, h]); });
  return {
    type: 'custom', name, xAxisIndex: 1, yAxisIndex: 1, silent: true, clip: true,
    color, itemStyle: { color }, encode: { x: [0, 1], y: 2 }, data: bins,
    renderItem(params, api) {
      const top = api.coord([api.value(0), api.value(2)]);
      const base = api.coord([api.value(1), 0]);
      return { type: 'rect', shape: { x: top[0], y: top[1], width: base[0] - top[0], height: base[1] - top[1] },
               style: { fill: color } };
    }
  };
}

function kdeSeries(name, color, data) {
  return {
    type: 'line', name, xAxisIndex: 1, yAxisIndex: 1, data, showSymbol: false, symbol: 'none',
    smooth: 0.3, silent: true, color, lineStyle: { color, width: 2 }, clip: true
  };
}

const fitX = axisRanges.D.x;
const fitLine = fitX.map(x => [x, fitSlope * x + fitIntercept]);

const legendBase = {
  selectedMode: false, orient: 'vertical', icon: 'rect',
  backgroundColor: '#fff', borderColor: '#cccccc', borderWidth: 1, borderRadius: 3,
  shadowColor: 'rgba(0,0,0,0.4)', shadowOffsetX: 3, shadowOffsetY: 3, shadowBlur: 0.01,
  textStyle: { fontFamily: FONT, fontSize: 14, color: '#000', lineHeight: 14.5 }
};

const titleRich = {
  n: { fontFamily: FONT, fontSize: 27, lineHeight: 32 },
  s: { fontFamily: FONT, fontSize: 18.5, fontStyle: 'italic', lineHeight: 15, verticalAlign: 'bottom' }
};
const labelRich = {
  n: { fontFamily: FONT, fontSize: 21.5, lineHeight: 26 },
  k: { fontFamily: FONT, fontSize: 21.5, fontStyle: 'italic', lineHeight: 26 },
  i: { fontFamily: FONT, fontSize: 21.5, fontStyle: 'italic', lineHeight: 26 },
  s: { fontFamily: FONT, fontSize: 15, fontStyle: 'italic', lineHeight: 12, verticalAlign: 'bottom' }
};

function textEl(text, x, y, rich, opts) {
  opts = opts || {};
  return {
    type: 'text', x, y, rotation: opts.rotation || 0, silent: true, z: 100,
    style: {
      text, fill: '#000', align: 'center', verticalAlign: 'middle',
      fontFamily: opts.fontFamily || FONT, fontSize: opts.fontSize || 21.5,
      fontWeight: opts.fontWeight || 'normal', rich: rich || undefined
    }
  };
}

const option = {
  animation: false,
  backgroundColor: '#fff',
  textStyle: { fontFamily: FONT },
  grid: gridBoxes.map(g => Object.assign({}, g, {
    show: true, borderColor: '#000', borderWidth: 1, backgroundColor: 'transparent',
    containLabel: false, outerBoundsMode: 'none'
  })),
  xAxis: xAxes,
  yAxis: yAxes,
  legend: [
    Object.assign({}, legendBase, {
      data: distanceNames, left: 368, top: 50, itemWidth: 30, itemHeight: 2, itemGap: 5.8,
      padding: [2, 6, 1, 5], itemStyle: { opacity: 0.6 },
      textStyle: Object.assign({}, legendBase.textStyle, { padding: [0, 0, 0, 3] })
    }),
    Object.assign({}, legendBase, {
      data: ['E119 density', 'D185 density'], orient: 'horizontal', left: 941, top: 59,
      itemWidth: 28, itemHeight: 9, itemGap: 26, padding: [5, 6, 5, 5],
      formatter: name => name.split(' ')[0],
      textStyle: Object.assign({}, legendBase.textStyle, { padding: [0, 0, 0, 6] })
    }),
    Object.assign({}, legendBase, {
      data: ['E119', 'D185'], left: 83, top: 507, itemWidth: 30, itemHeight: 2, itemGap: 5.5,
      padding: [5, 7, 5, 4], itemStyle: { opacity: 0.6 },
      textStyle: Object.assign({}, legendBase.textStyle, { padding: [0, 0, 0, 3] })
    }),
    Object.assign({}, legendBase, {
      data: ['fit'], left: 983, top: 513, itemWidth: 29, itemHeight: 3, padding: [4, 6, 4, 4],
      formatter: () => 'y=' + fitSlope.toFixed(1) + 'x+' + fitIntercept.toFixed(1) +
                       '\n{i|r}{sup|2}=' + fitR2.toFixed(1),
      textStyle: {
        fontFamily: FONT, fontSize: 13.5, color: '#000', lineHeight: 17, padding: [0, 0, 0, 5],
        rich: {
          i: { fontFamily: FONT, fontSize: 13.5, fontStyle: 'italic', lineHeight: 17 },
          sup: { fontFamily: FONT, fontSize: 9.5, lineHeight: 10, verticalAlign: 'top' }
        }
      }
    })
  ],
  series: [
    // A
    traceSeries(distanceNames[0], BLUE, distOE1OD1, distOE1OD1Mid, 0),
    traceSeries(distanceNames[1], ORANGE, distOE2OD1, distOE2OD1Mid, 0),
    traceSeries(distanceNames[2], GREEN, distOE1OD2, distOE1OD2Mid, 0),
    traceSeries(distanceNames[3], RED, distOE2OD2, distOE2OD2Mid, 0),
    // B
    histSeries('E119 density', 'rgba(31,119,180,0.4)', e119HistStart, e119HistWidth, e119HistHeights),
    kdeSeries('E119 kde', BLUE, e119Kde),
    histSeries('D185 density', 'rgba(255,127,14,0.4)', d185HistStart, d185HistWidth, d185HistHeights),
    kdeSeries('D185 kde', ORANGE, d185Kde),
    // C
    traceSeries('E119', BLUE, pkaE119, pkaE119Mid, 2),
    traceSeries('D185', ORANGE, pkaD185, pkaD185Mid, 2),
    // D
    {
      type: 'custom', name: 'ring', xAxisIndex: 3, yAxisIndex: 3, silent: true, z: 1,
      data: [[highStateRing.center[0], highStateRing.center[1], highStateRing.radii[0], highStateRing.radii[1]]],
      renderItem(params, api) {
        const c = api.coord([api.value(0), api.value(1)]);
        const s = api.size([api.value(2), api.value(3)]);
        return { type: 'ellipse', shape: { cx: c[0], cy: c[1], rx: s[0], ry: s[1] },
                 style: { fill: '#e5e5e5', stroke: '#000', lineWidth: 2 } };
      }
    },
    {
      type: 'line', name: 'fit', xAxisIndex: 3, yAxisIndex: 3, data: fitLine, showSymbol: false,
      symbol: 'none', silent: true, z: 2, color: BLUE, lineStyle: { color: BLUE, width: 3 }, clip: true
    },
    {
      type: 'scatter', name: 'points', xAxisIndex: 3, yAxisIndex: 3, silent: true, z: 3,
      data: [].concat(corrHighState, rowsToPoints(corrHighStateRows), corrLowState,
                      corrOpenState, rowsToPoints(corrOpenStateRows), corrOutliers),
      symbol: 'circle', symbolSize: 10, itemStyle: { color: BLUE, opacity: 0.8 }, large: false
    }
  ],
  graphic: [
    // panel letters
    textEl('A', 22, 30, null, { fontFamily: 'Liberation Sans', fontSize: 27, fontWeight: 'bold' }),
    textEl('B', 601, 35, null, { fontFamily: 'Liberation Sans', fontSize: 27, fontWeight: 'bold' }),
    textEl('C', 29, 471, null, { fontFamily: 'Liberation Sans', fontSize: 27, fontWeight: 'bold' }),
    textEl('D', 585, 470, null, { fontFamily: 'Liberation Sans', fontSize: 27, fontWeight: 'bold' }),
    // titles
    textEl('{n|Hv1F VSD WT E119-D185 Distance}', 314.5, 27, titleRich),
    textEl('{n|Hv1F VSD WT PROPKA3.1 pK}{s|a}', 889, 35.5, titleRich),
    textEl('{n|Hv1F VSD WT PROPKA3.1 pK}{s|a}', 319, 484, titleRich),
    textEl('{n|Hv1F VSD WT PROPKA3.1 pK}{s|a}{n| Correlation}', 892.5, 489, titleRich),
    // axis labels
    textEl('{n|time (ns)}', 314.5, 447, labelRich),
    textEl('{n|Distance (}{i|Å}{n|)}', 22.5, 227.5, labelRich, { rotation: Math.PI / 2 }),
    textEl('{n|p}{k|K}{s|a}', 889, 457, labelRich),
    textEl('{n|Kernel Density Estimate}', 601, 235, { n: { fontFamily: FONT, fontSize: 26, lineHeight: 30 } },
           { rotation: Math.PI / 2 }),
    textEl('{n|time (ns)}', 319, 898, labelRich),
    textEl('{n|pK}{s|a}', 36, 685, labelRich, { rotation: Math.PI / 2 }),
    textEl('{n|E119OE2-D185OD2 Distance (}{i|Å}{n|)}', 892.5, 900, labelRich),
    textEl('{n|E119 pK}{s|a}', 609.5, 683, labelRich, { rotation: Math.PI / 2 })
  ]
};

const chart = echarts.init(document.getElementById('chart'), null, { renderer: 'canvas' });
chart.setOption(option);
</script>
</body>
</html>
